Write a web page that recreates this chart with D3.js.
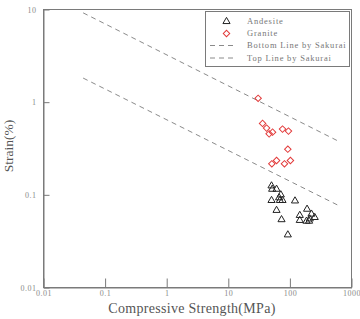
<!DOCTYPE html>
<html><head><meta charset="utf-8">
<script src="https://cdn.jsdelivr.net/npm/d3@7/dist/d3.min.js"></script>
<style>body{margin:0;background:#fff}svg{display:block}</style>
</head><body>
<svg id="c" width="360" height="319"></svg>
<script>
// Data
const xTicks = [0.01, 0.1, 1, 10, 100, 1000];
const yTicks = [0.01, 0.1, 1, 10];
const xTickLabels = ["0.01", "0.1", "1", "10", "100", "1000"];
const yTickLabels = ["0.01", "0.1", "1", "10"];
const andesiteX = [50.3, 51.5, 60.7, 71.2, 66.8, 75.9, 50.3, 68.7, 121, 60.7, 73.1, 92.5, 144.6, 144.6, 190, 224, 210, 205, 253, 186];
const andesiteY = [0.125, 0.115, 0.115, 0.100, 0.093, 0.087, 0.087, 0.087, 0.086, 0.068, 0.054, 0.037, 0.060, 0.053, 0.070, 0.062, 0.055, 0.052, 0.057, 0.052];
const graniteX = [30.5, 36, 41.8, 46, 52.3, 75.9, 94.8, 92.5, 60.7, 50.9, 81.6, 102];
const graniteY = [1.10, 0.59, 0.525, 0.455, 0.475, 0.512, 0.487, 0.311, 0.235, 0.216, 0.216, 0.235];
const lineX = [0.044, 660];
const bottomLineY = [1.82, 0.075];
const topLineY = [9.2, 0.37];
const legendLabels = ["Andesite", "Granite", "Bottom Line by Sakurai", "Top Line by Sakurai"];

const svg = d3.select("#c");
const L = 43.5, R = 351.5, T = 9.5, B = 287.5;
const x = d3.scaleLog().domain([0.01, 1000]).range([L, R]);
const y = d3.scaleLog().domain([0.01, 10]).range([B, T]);
const axisCol = "#7a7a7a", tickTxt = "#8a8a8a", font = "'Liberation Serif', 'Times New Roman', serif";

// frame
svg.append("rect").attr("x", L).attr("y", T).attr("width", R - L).attr("height", B - T)
  .attr("fill", "none").attr("stroke", axisCol).attr("stroke-width", 1);

// axes
const xAxis = d3.axisBottom(x).tickValues(xTicks).tickFormat((d, i) => xTickLabels[i]).tickSizeInner(-9).tickSizeOuter(0).tickPadding(4);
const gx = svg.append("g").attr("transform", `translate(0,${B})`).call(xAxis);
const yAxis = d3.axisLeft(y).tickValues(yTicks).tickFormat((d, i) => yTickLabels[i]).tickSizeInner(-6).tickSizeOuter(0).tickPadding(7);
const gy = svg.append("g").attr("transform", `translate(${L},0)`).call(yAxis);
[gx, gy].forEach(g => {
  g.select(".domain").attr("stroke", axisCol);
  g.selectAll(".tick line").attr("stroke", axisCol);
  g.selectAll(".tick text").attr("fill", tickTxt).attr("font-family", font).attr("font-size", 8).attr("letter-spacing", 0.5);
});
gx.selectAll(".tick text").attr("dy", "0.3em").attr("y", 6);

// titles
svg.append("text").attr("x", 192).attr("y", 313).attr("text-anchor", "middle")
  .attr("font-family", font).attr("font-size", 14).attr("letter-spacing", 0.3).attr("fill", "#555").text("Compressive Strength(MPa)");
svg.append("text").attr("transform", "translate(13,146) rotate(-90)").attr("text-anchor", "middle")
  .attr("font-family", font).attr("font-size", 13.5).attr("fill", "#555").text("Strain(%)");

// Sakurai lines
const line = d3.line().x(d => x(d[0])).y(d => y(d[1]));
[bottomLineY, topLineY].forEach(ys => {
  svg.append("path").datum(lineX.map((v, i) => [v, ys[i]])).attr("d", line)
    .attr("fill", "none").attr("stroke", "#8a8a8a").attr("stroke-width", 1).attr("stroke-dasharray", "5,4");
});

// markers
const tri = d3.symbol().type(d3.symbolTriangle).size(22);
const dia = d3.symbol().type(d3.symbolSquare).size(21);
svg.append("g").selectAll("path").data(andesiteX.map((v, i) => [v, andesiteY[i]])).join("path")
  .attr("d", tri).attr("transform", d => `translate(${x(d[0])},${y(d[1])})`)
  .attr("fill", "none").attr("stroke", "#222").attr("stroke-width", 1);
svg.append("g").selectAll("path").data(graniteX.map((v, i) => [v, graniteY[i]])).join("path")
  .attr("d", dia).attr("transform", d => `translate(${x(d[0])},${y(d[1])}) rotate(45)`)
  .attr("fill", "none").attr("stroke", "#e23a3a").attr("stroke-width", 1);

// legend
const lg = svg.append("g");
lg.append("rect").attr("x", 205.5).attr("y", 11.5).attr("width", 144).attr("height", 55)
  .attr("fill", "#fff").attr("stroke", axisCol).attr("stroke-width", 1);
const rowY = [21.5, 33.5, 45.5, 58];
legendLabels.forEach((t, i) => {
  const yy = rowY[i];
  if (i === 0) lg.append("path").attr("d", tri).attr("transform", `translate(226.5,${yy})`).attr("fill", "none").attr("stroke", "#222");
  else if (i === 1) lg.append("path").attr("d", dia).attr("transform", `translate(226.5,${yy}) rotate(45)`).attr("fill", "none").attr("stroke", "#e23a3a");
  else lg.append("line").attr("x1", 210).attr("x2", 237).attr("y1", yy).attr("y2", yy)
    .attr("stroke", "#8a8a8a").attr("stroke-dasharray", "5,4");
  lg.append("text").attr("x", 247).attr("y", yy).attr("dy", "0.35em").attr("font-family", font)
    .attr("font-size", 8.5).attr("letter-spacing", 0.8).attr("fill", "#777").text(t);
});
</script>
</body></html>
